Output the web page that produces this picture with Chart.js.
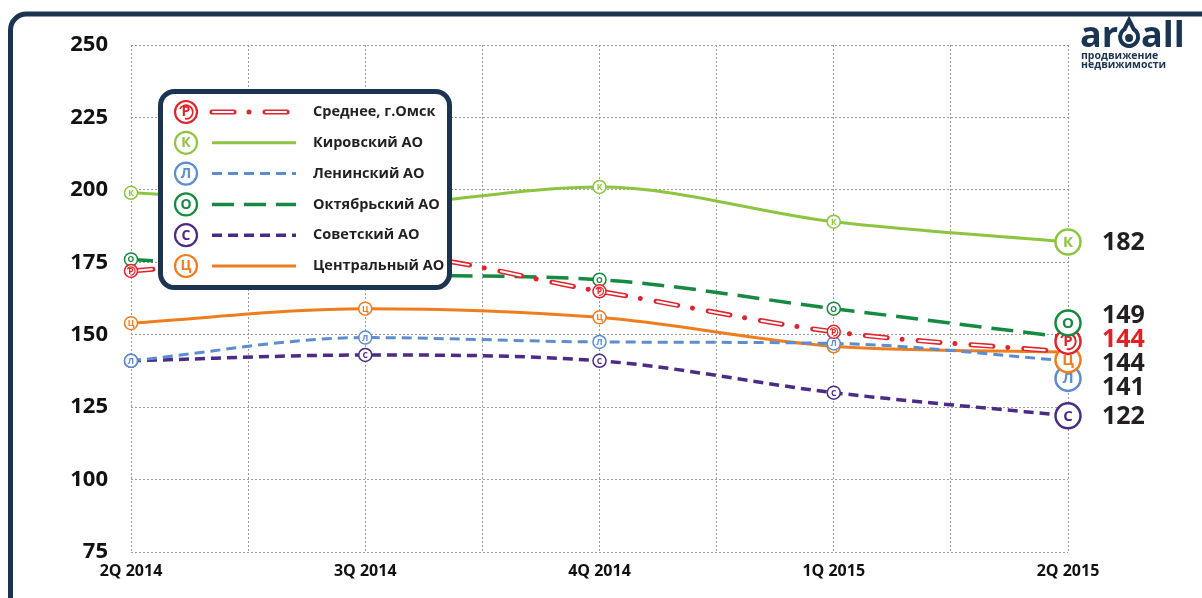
<!DOCTYPE html>
<html>
<head>
<meta charset="utf-8">
<script src="https://cdn.jsdelivr.net/npm/chart.js@4.4.1/dist/chart.umd.min.js"></script>
<style>
  html, body { margin: 0; padding: 0; background: #fff; }
  #wrap { position: relative; width: 1202px; height: 598px; }
</style>
</head>
<body>
<div id="wrap"><canvas id="chart"></canvas></div>
<script>
// цены, тыс. руб./кв.м
var quarters = ['2Q 2014', '3Q 2014', '4Q 2014', '1Q 2015', '2Q 2015'];
var avgOmsk = [172, 178, 165, 151, 144];
var kirovsky = [199, 195, 201, 189, 182];
var leninsky = [141, 149, 147.5, 147, 141];
var oktyabrsky = [176, 171, 169, 159, 149];
var sovetsky = [141, 143, 141, 130, 122];
var centralny = [154, 159, 156, 146, 144];
var yMin = 75, yMax = 250, yStep = 25;

var FONT = '"Open Sans", "DejaVu Sans", sans-serif';
var NAVY = '#1b3452';

var series = [
  {label: 'Среднее, г.Омск', letter: 'Р', color: '#e1232b', data: avgOmsk, width: 5, dash: [22, 15, 0.01, 16], cap: 'round', hollow: true},
  {label: 'Кировский АО', letter: 'К', color: '#8dc540', data: kirovsky, width: 3, dash: []},
  {label: 'Ленинский АО', letter: 'Л', color: '#5b8dd0', data: leninsky, width: 3, dash: [10, 6]},
  {label: 'Октябрьский АО', letter: 'О', color: '#158a40', data: oktyabrsky, width: 3.5, dash: [22, 10]},
  {label: 'Советский АО', letter: 'С', color: '#4b2b84', data: sovetsky, width: 3.5, dash: [10, 6]},
  {label: 'Центральный АО', letter: 'Ц', color: '#ee7d1e', data: centralny, width: 3, dash: []}
];

function toPoints(arr) {
  return arr.map(function(v, i) { return {x: i, y: v}; });
}

// white core of the average line, drawn on top of it
var datasets = [{
  label: '',
  data: toPoints(avgOmsk),
  borderColor: '#ffffff',
  borderWidth: 2,
  borderDash: [20, 33.01],
  borderDashOffset: -1,
  borderCapStyle: 'round',
  pointRadius: 0,
  cubicInterpolationMode: 'monotone',
  fill: false
}];
series.forEach(function(s) {
  datasets.push({
    label: s.label,
    data: toPoints(s.data),
    borderColor: s.color,
    borderWidth: s.width,
    borderDash: s.dash,
    borderCapStyle: s.cap || 'butt',
    pointRadius: 0,
    cubicInterpolationMode: 'monotone',
    fill: false
  });
});

function drawMarker(ctx, x, y, r, s, lw, fontSize) {
  ctx.save();
  ctx.beginPath();
  ctx.arc(x, y, r, 0, Math.PI * 2);
  ctx.fillStyle = '#fff';
  ctx.fill();
  ctx.lineWidth = lw;
  ctx.strokeStyle = s.color;
  ctx.stroke();
  if (s.hollow) {
    ctx.beginPath();
    ctx.arc(x, y, r * 0.62, Math.PI * 1.15, Math.PI * 2.55);
    ctx.lineWidth = lw * 0.8;
    ctx.stroke();
  }
  ctx.fillStyle = s.color;
  ctx.font = 'bold ' + fontSize + 'px ' + FONT;
  ctx.textAlign = 'center';
  ctx.textBaseline = 'middle';
  ctx.fillText(s.letter, x, y + 0.5);
  ctx.restore();
}

// push overlapping end labels apart, keeping each cluster centred on its values
function spread(items, gap) {
  items.sort(function(a, b) { return a.y - b.y; });
  var groups = items.map(function(it) { return {items: [it], center: it.y}; });
  var merged = true;
  while (merged) {
    merged = false;
    for (var i = 0; i < groups.length - 1; i++) {
      var a = groups[i], b = groups[i + 1];
      var aBottom = a.center + (a.items.length - 1) * gap / 2;
      var bTop = b.center - (b.items.length - 1) * gap / 2;
      if (bTop - aBottom < gap) {
        var all = a.items.concat(b.items);
        var c = all.reduce(function(sum, it) { return sum + it.y; }, 0) / all.length;
        groups.splice(i, 2, {items: all, center: c});
        merged = true;
        break;
      }
    }
  }
  groups.forEach(function(g) {
    g.items.forEach(function(it, k) {
      it.pos = g.center + (k - (g.items.length - 1) / 2) * gap;
    });
  });
  return items;
}

function strokeSample(ctx, s, x1, x2, y) {
  ctx.save();
  ctx.beginPath();
  ctx.moveTo(x1, y);
  ctx.lineTo(x2, y);
  ctx.strokeStyle = s.color;
  ctx.lineWidth = s.width;
  ctx.lineCap = s.cap || 'butt';
  ctx.setLineDash(s.dash);
  ctx.stroke();
  if (s.hollow) {
    ctx.beginPath();
    ctx.moveTo(x1, y);
    ctx.lineTo(x2, y);
    ctx.strokeStyle = '#fff';
    ctx.lineWidth = 2;
    ctx.setLineDash([20, 33.01]);
    ctx.lineDashOffset = -1;
    ctx.stroke();
  }
  ctx.restore();
}

function roundRect(ctx, x, y, w, h, r) {
  ctx.beginPath();
  ctx.moveTo(x + r, y);
  ctx.lineTo(x + w - r, y);
  ctx.arcTo(x + w, y, x + w, y + r, r);
  ctx.lineTo(x + w, y + h - r);
  ctx.arcTo(x + w, y + h, x + w - r, y + h, r);
  ctx.lineTo(x + r, y + h);
  ctx.arcTo(x, y + h, x, y + h - r, r);
  ctx.lineTo(x, y + r);
  ctx.arcTo(x, y, x + r, y, r);
  ctx.closePath();
}

var decor = {
  id: 'decor',
  beforeDraw: function(chart) {
    var ctx = chart.ctx;
    ctx.save();
    // outer frame
    ctx.strokeStyle = NAVY;
    ctx.lineWidth = 5;
    ctx.beginPath();
    ctx.moveTo(10.5, 640);
    ctx.lineTo(10.5, 30);
    ctx.arcTo(10.5, 14, 26.5, 14, 16);
    ctx.lineTo(1240, 14);
    ctx.stroke();
    // logo
    ctx.fillStyle = NAVY;
    ctx.font = 'bold 36px ' + FONT;
    ctx.textBaseline = 'alphabetic';
    ctx.textAlign = 'left';
    ctx.fillText('ar', 1080, 47);
    var w = ctx.measureText('ar').width;
    var cx = 1080 + w + 11;
    ctx.lineWidth = 4;
    ctx.strokeStyle = NAVY;
    ctx.beginPath();
    ctx.arc(cx, 37, 9, -Math.PI * 0.33, Math.PI * 1.33);
    ctx.lineTo(cx, 20);
    ctx.closePath();
    ctx.stroke();
    ctx.beginPath();
    ctx.arc(cx, 38, 4, 0, Math.PI * 2);
    ctx.fill();
    ctx.fillText('all', cx + 12, 47);
    ctx.font = 'bold 10.5px ' + FONT;
    ctx.fillText('продвижение', 1081, 59);
    ctx.fillText('недвижимости', 1081, 68);
    ctx.restore();
  },
  afterDatasetsDraw: function(chart) {
    var ctx = chart.ctx;
    var yScale = chart.scales.y;
    var ends = [];
    for (var si = series.length - 1; si >= 0; si--) {
      var s = series[si];
      var meta = chart.getDatasetMeta(si + 1);
      for (var i = 0; i < meta.data.length - 1; i++) {
        drawMarker(ctx, meta.data[i].x, meta.data[i].y, 6.5, s, 1.5, 8.5);
      }
      var last = meta.data[meta.data.length - 1];
      ends.push({s: s, idx: si, x: last.x, y: yScale.getPixelForValue(s.data[s.data.length - 1])});
    }
    ends.sort(function(a, b) { return a.idx - b.idx; });
    var marks = spread(ends.map(function(e) { return {s: e.s, idx: e.idx, x: e.x, y: e.y}; }), 18.5);
    var labels = spread(ends.map(function(e) { return {s: e.s, idx: e.idx, x: e.x, y: e.y}; }), 24);
    marks.slice().reverse().forEach(function(m) {
      drawMarker(ctx, m.x, m.pos, 12.5, m.s, 2.5, 15);
    });
    ctx.save();
    ctx.font = 'bold 25px ' + FONT;
    ctx.textAlign = 'left';
    ctx.textBaseline = 'middle';
    labels.forEach(function(l) {
      ctx.fillStyle = l.s.hollow ? '#e31e24' : '#231f20';
      ctx.fillText(String(l.s.data[l.s.data.length - 1]), l.x + 34, l.pos + 1);
    });
    ctx.restore();
  },
  afterDraw: function(chart) {
    var ctx = chart.ctx;
    ctx.save();
    roundRect(ctx, 160.5, 91.5, 289, 196, 14);
    ctx.fillStyle = '#fff';
    ctx.fill();
    ctx.lineWidth = 5;
    ctx.strokeStyle = NAVY;
    ctx.stroke();
    series.forEach(function(s, i) {
      var y = 112 + i * 30.8;
      drawMarker(ctx, 186, y, 11, s, 2.2, 14);
      strokeSample(ctx, s, 212, 296, y);
      ctx.fillStyle = '#231f20';
      ctx.font = 'bold 14.5px ' + FONT;
      ctx.textAlign = 'left';
      ctx.textBaseline = 'middle';
      ctx.fillText(s.label, 313, y);
    });
    ctx.restore();
  }
};

new Chart(document.getElementById('chart'), {
  type: 'line',
  data: {datasets: datasets},
  plugins: [decor],
  options: {
    responsive: true,
    maintainAspectRatio: false,
    animation: false,
    layout: {padding: {left: 0, right: 134, top: 45, bottom: 0}},
    plugins: {
      legend: {display: false},
      tooltip: {enabled: false}
    },
    scales: {
      x: {
        type: 'linear',
        min: 0,
        max: quarters.length - 1,
        afterFit: function(scale) { scale.height = 46; },
        ticks: {
          stepSize: 0.5,
          autoSkip: false,
          maxRotation: 0,
          padding: 10,
          color: '#111',
          font: {family: FONT, size: 16, weight: 'bold'},
          callback: function(v) { return Number.isInteger(v) ? quarters[v] : ''; }
        },
        grid: {color: '#9a9a9a', lineWidth: 1, drawTicks: false},
        border: {display: false, dash: [2, 2]}
      },
      y: {
        min: yMin,
        max: yMax,
        afterFit: function(scale) { scale.width = 131; },
        ticks: {
          stepSize: yStep,
          padding: 23,
          color: '#111',
          font: {family: FONT, size: 22, weight: 'bold'}
        },
        grid: {color: '#9a9a9a', lineWidth: 1, drawTicks: false},
        border: {display: false, dash: [2, 2]}
      }
    }
  }
});
</script>
</body>
</html>
